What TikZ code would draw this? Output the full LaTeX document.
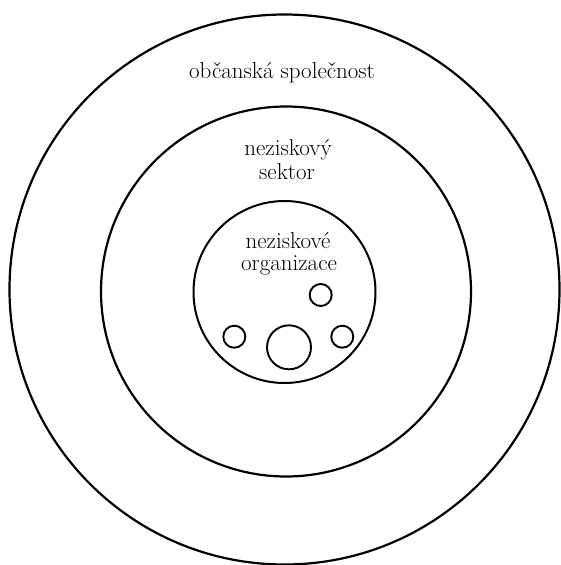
\documentclass[tikz,border=0pt]{standalone}
\usepackage{fontspec}
\begin{document}
\begin{tikzpicture}[x=1pt,y=-1pt,
  ring/.style={draw=black,circle,inner sep=0pt,line width=2.2pt},
  dot/.style={draw=black,circle,inner sep=0pt,line width=1.9pt},
  lbl/.style={anchor=base,inner sep=0pt,font=\rmfamily\fontsize{23}{26}\selectfont}]
\useasboundingbox (0,0) rectangle (561,565);
\fill[white] (0,0) rectangle (561,565);
\node[ring,minimum size=550pt] (outer) at (284.5,289.5) {};
\node[ring,minimum size=370pt] (middle) at (286,291.5) {};
\node[ring,minimum size=182pt,line width=2pt] (inner) at (284.5,292) {};
\node[dot,minimum size=22pt] (s1) at (320.7,295) {};
\node[dot,minimum size=22pt] (s2) at (234.3,336.7) {};
\node[dot,minimum size=44pt] (s3) at (289,347.3) {};
\node[dot,minimum size=22pt] (s4) at (342.3,336.7) {};
\node[lbl] (t1) at (282,78) {občanská společnost};
\node[lbl] (t2) at (288,155) {neziskový};
\node[lbl] (t3) at (287,179) {sektor};
\node[lbl] (t4) at (288,248) {neziskové};
\node[lbl] (t5) at (289,270) {organizace};
\end{tikzpicture}
\end{document}
